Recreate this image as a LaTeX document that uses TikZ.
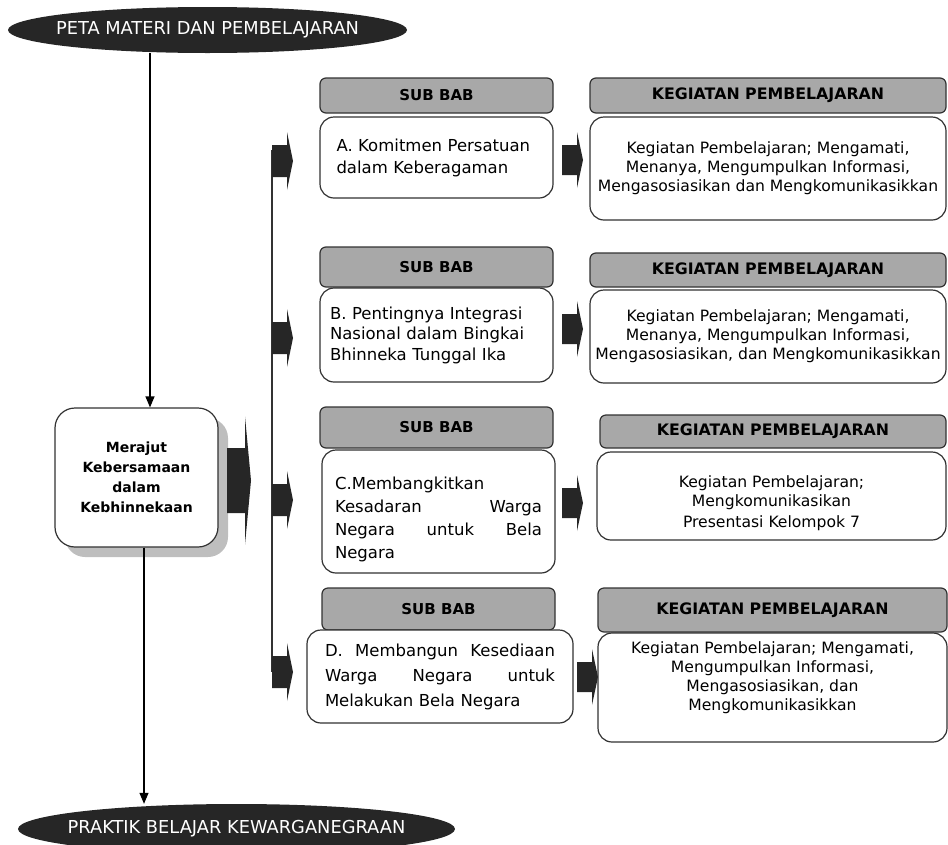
\documentclass[tikz,border=0pt]{standalone}
\usepackage{fontspec}
\setmainfont{DejaVu Sans}
\usepackage{tikz}
\usetikzlibrary{arrows.meta,shapes,shadows,calc,positioning}
\definecolor{hitam}{RGB}{38,38,38}
\definecolor{abu}{RGB}{168,168,168}
\definecolor{bayang}{RGB}{190,190,190}
\definecolor{garis}{RGB}{50,50,50}
\tikzstyle{judul} =[ellipse, fill=hitam, text=white, inner xsep=-25pt,
                    inner ysep=0pt, font=\fontsize{17.8}{20}\selectfont]
\tikzstyle{kepala}=[draw=garis, line width=1.2pt, rounded corners=6pt,
                    fill=abu, inner sep=0pt,
                    font=\bfseries\fontsize{15}{18}\selectfont]
\tikzstyle{kegkepala}=[kepala, font=\bfseries\fontsize{15.8}{18}\selectfont]
\tikzstyle{isi}   =[draw=garis, line width=1.2pt, rounded corners=14pt,
                    fill=white, inner sep=0pt]
\tikzstyle{subteks}=[isi, align=left, font=\fontsize{16.5}{23}\selectfont]
\tikzstyle{kegteks}=[isi, align=center, font=\fontsize{15.6}{19}\selectfont]
\tikzstyle{tipis} =[draw=black, line width=1.2pt,
                    -{Triangle[length=11pt,width=9pt]}]
% panah blok: x awal, x ujung, y tengah, setengah badan, setengah kepala
\newcommand{\blok}[5]{\fill[hitam] (#1,#3-#4) -- (#2-6,#3-#4) -- (#2-6,#3-#5)
    -- (#2,#3) -- (#2-6,#3+#5) -- (#2-6,#3+#4) -- (#1,#3+#4) -- cycle;}
\newcommand{\renggang}{\hskip 0pt plus 1filll\relax}

\begin{document}
\begin{tikzpicture}[x=1pt,y=-1pt]
    \useasboundingbox (0,0) rectangle (948,844);

    % judul atas dan bawah
    \draw (207.5,30) node(atas)[judul, minimum width=399, minimum height=46]
        {PETA MATERI DAN PEMBELAJARAN};
    \draw (236.5,829) node(bawah)[judul, minimum width=437, minimum height=50]
        {PRAKTIK BELAJAR KEWARGANEGRAAN};

    % materi pokok
    \draw (136.5,477.5) node(pokok)[isi, rounded corners=20pt,
        minimum width=163, minimum height=139, align=center,
        drop shadow={shadow xshift=10pt, shadow yshift=-10pt,
                     fill=bayang, opacity=1},
        font=\bfseries\fontsize{14}{20}\selectfont]
        {Merajut\\Kebersamaan\\dalam\\Kebhinnekaan};

    \draw [tipis] (atas.south -| 150,0) -- (pokok.north -| 150,0);
    \draw [tipis] (pokok.south -| 144,0) -- (bawah.north -| 144,805);

    % panah besar dan garis bus
    \blok{227}{251}{480.5}{32.5}{64}
    \draw [line width=1.2pt, garis] (272,150) -- (272,672);
    \foreach \y in {161,338,500,672}
        {\blok{272}{293}{\y}{16}{29}}
    \foreach \x/\y in {562/160,562/329,562/503,577/677}
        {\blok{\x}{\x+21}{\y}{15}{28}}

    % sub bab
    \draw (436.5,95.5) node(kepA)[kepala, minimum width=233, minimum height=35]{SUB BAB};
    \draw (436.5,267) node(kepB)[kepala, minimum width=233, minimum height=40]{SUB BAB};
    \draw (436.5,427.5) node(kepC)[kepala, minimum width=233, minimum height=41]{SUB BAB};
    \draw (438.5,609) node(kepD)[kepala, minimum width=233, minimum height=42]{SUB BAB};

    \draw (436.5,157.5) node(subA)[subteks, minimum width=233, minimum height=81,
        text width=200, font=\fontsize{16.5}{22}\selectfont]
        {A. Komitmen Persatuan\\dalam Keberagaman};
    \draw (436.5,335) node(subB)[subteks, minimum width=233, minimum height=94,
        text width=213, font=\fontsize{16.5}{20.5}\selectfont]
        {B. Pentingnya Integrasi\\Nasional dalam Bingkai\\Bhinneka Tunggal Ika};
    \draw (438.5,511.5) node(subC)[subteks, minimum width=233, minimum height=123,
        text width=207]{\rule{0pt}{28pt}C.Membangkitkan\\Kesadaran\renggang Warga\\
        Negara\renggang untuk\renggang Bela\\Negara};
    \draw (440,676.5) node(subD)[subteks, minimum width=266, minimum height=93,
        text width=230, font=\fontsize{16.5}{25}\selectfont]
        {D.\renggang Membangun\renggang Kesediaan\\
        Warga\renggang Negara\renggang untuk\\Melakukan Bela Negara};

    % kegiatan pembelajaran
    \draw (768,95.5) node(kegkepA)[kegkepala, minimum width=356, minimum height=35]
        {KEGIATAN PEMBELAJARAN};
    \draw (768,270) node(kegkepB)[kegkepala, minimum width=356, minimum height=34]
        {KEGIATAN PEMBELAJARAN};
    \draw (773,431.5) node(kegkepC)[kegkepala, minimum width=346, minimum height=33]
        {KEGIATAN PEMBELAJARAN};
    \draw (772.5,610) node(kegkepD)[kegkepala, minimum width=349, minimum height=44]
        {KEGIATAN PEMBELAJARAN};

    \draw (768,168.5) node(kegA)[kegteks, minimum width=356, minimum height=103]
        {Kegiatan Pembelajaran; Mengamati,\\Menanya, Mengumpulkan Informasi,\\
        Mengasosiasikan dan Mengkomunikasikkan};
    \draw (768,336.5) node(kegB)[kegteks, minimum width=356, minimum height=93]
        {Kegiatan Pembelajaran; Mengamati,\\Menanya, Mengumpulkan Informasi,\\
        Mengasosiasikan, dan Mengkomunikasikkan};
    \draw (771.5,496) node(kegC)[kegteks, minimum width=349, minimum height=88]
        {\rule{0pt}{26pt}Kegiatan Pembelajaran;\\Mengkomunikasikan\\[2pt]
        Presentasi Kelompok 7};
    \draw (772.5,687.5) node(kegD)[kegteks, minimum width=349, minimum height=109]
        {Kegiatan Pembelajaran; Mengamati,\\Mengumpulkan Informasi,\\
        Mengasosiasikan, dan\\Mengkomunikasikkan\\[4pt]};
\end{tikzpicture}
\end{document}
